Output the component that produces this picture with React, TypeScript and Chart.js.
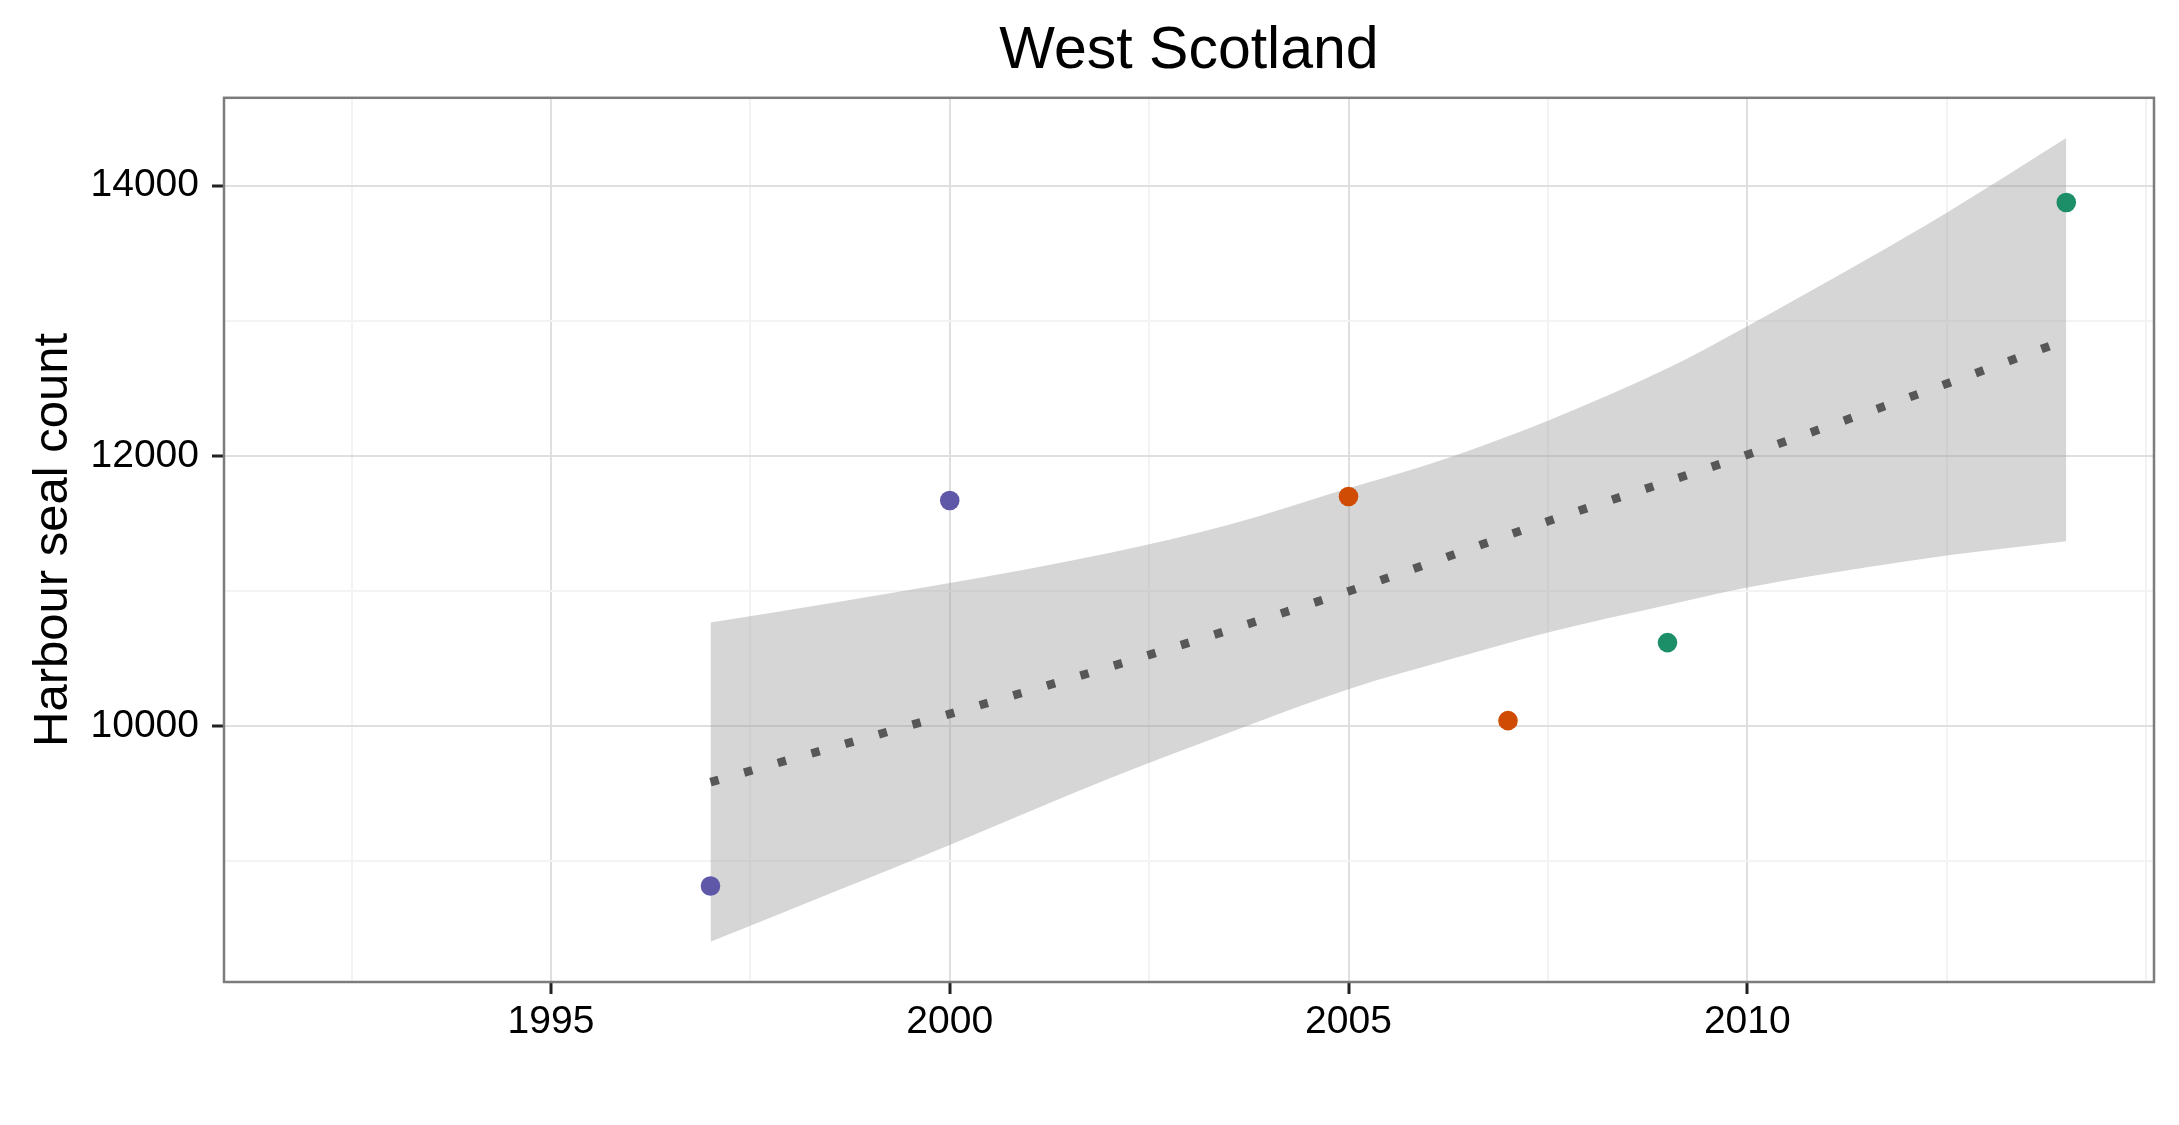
import React, { useEffect, useRef } from 'react';
import { Chart, registerables } from 'chart.js';

Chart.register(...registerables);

const TITLE = 'West Scotland';
const Y_TITLE = 'Harbour seal count';

// observed counts, grouped by colour
const purpleYears = [1997, 2000];
const purpleCounts = [8815, 11669];
const orangeYears = [2005, 2007];
const orangeCounts = [11699, 10039];
const greenYears = [2009, 2014];
const greenCounts = [10617, 13876];

// fitted trend
const fitYears = [1997, 2000, 2002.5, 2005, 2007.5, 2010, 2012.5, 2014];
const fitCounts = [9584, 10089, 10526, 10997, 11515, 12008, 12534, 12858];

// confidence band
const bandYears = [1997, 2000, 2002, 2003.5, 2005, 2006.2, 2007.5, 2009, 2010, 2011.5, 2012.5, 2014];
const upperCounts = [10765, 11059, 11281, 11489, 11760, 11975, 12260, 12648, 12960, 13455, 13800, 14353];
const lowerCounts = [8402, 9119, 9610, 9950, 10272, 10480, 10692, 10895, 11025, 11175, 11262, 11368];

// axes
const xMajorTicks = [1995, 2000, 2005, 2010];
const xMinorTicks = [1992.5, 1997.5, 2002.5, 2007.5, 2012.5, 2015];
const yMajorTicks = [10000, 12000, 14000];
const yMinorTicks = [9000, 11000, 13000];
const X_MIN = 1990.9;
const X_MAX = 2015.1;
const Y_MIN = 8104;
const Y_MAX = 14651;

const PURPLE = '#5F58A8';
const ORANGE = '#D04C04';
const GREEN = '#1C8F68';
const FONT = '"Liberation Sans", Arial, Helvetica, sans-serif';

const zip = (xs: number[], ys: number[]) => xs.map((x, i) => ({ x, y: ys[i] }));

const panelBorder = {
  id: 'panelBorder',
  afterDatasetsDraw(chart: any) {
    const { ctx, chartArea: a } = chart;
    ctx.save();
    ctx.strokeStyle = '#7c7c7c';
    ctx.lineWidth = 2.5;
    ctx.strokeRect(a.left, a.top, a.right - a.left, a.bottom - a.top);
    ctx.restore();
  },
};

export default function App() {
  const ref = useRef<HTMLCanvasElement | null>(null);

  useEffect(() => {
    if (!ref.current) return;
    const majorX = new Set(xMajorTicks);
    const majorY = new Set(yMajorTicks);
    const chart = new Chart(ref.current, {
      type: 'scatter',
      data: {
        datasets: [
          {
            type: 'scatter',
            label: 'purple',
            data: zip(purpleYears, purpleCounts),
            backgroundColor: PURPLE,
            borderColor: PURPLE,
            pointRadius: 9.8,
            borderWidth: 0,
            order: 0,
          },
          {
            type: 'scatter',
            label: 'orange',
            data: zip(orangeYears, orangeCounts),
            backgroundColor: ORANGE,
            borderColor: ORANGE,
            pointRadius: 9.8,
            borderWidth: 0,
            order: 0,
          },
          {
            type: 'scatter',
            label: 'green',
            data: zip(greenYears, greenCounts),
            backgroundColor: GREEN,
            borderColor: GREEN,
            pointRadius: 9.8,
            borderWidth: 0,
            order: 0,
          },
          {
            type: 'line',
            label: 'trend',
            data: zip(fitYears, fitCounts),
            borderColor: '#575757',
            borderWidth: 8.5,
            borderDash: [8.5, 26.5],
            borderCapStyle: 'butt',
            pointRadius: 0,
            fill: false,
            showLine: true,
            cubicInterpolationMode: 'monotone',
            order: 1,
          },
          {
            type: 'line',
            label: 'upper',
            data: zip(bandYears, upperCounts),
            borderColor: 'rgba(0,0,0,0)',
            borderWidth: 0,
            pointRadius: 0,
            backgroundColor: 'rgba(153,153,153,0.4)',
            fill: '+1',
            showLine: true,
            cubicInterpolationMode: 'monotone',
            order: 2,
          },
          {
            type: 'line',
            label: 'lower',
            data: zip(bandYears, lowerCounts),
            borderColor: 'rgba(0,0,0,0)',
            borderWidth: 0,
            pointRadius: 0,
            fill: false,
            showLine: true,
            cubicInterpolationMode: 'monotone',
            order: 3,
          },
        ] as any,
      },
      options: {
        animation: false,
        responsive: false,
        devicePixelRatio: 1,
        layout: { padding: { left: 0, right: 25, top: 0, bottom: 0 } },
        plugins: {
          legend: { display: false },
          tooltip: { enabled: false },
          title: {
            display: true,
            fullSize: false,
            text: TITLE,
            color: '#000',
            font: { family: FONT, size: 59, weight: 'normal', lineHeight: 1.2 },
            padding: { top: 16, bottom: 11 },
          },
        },
        scales: {
          x: {
            type: 'linear',
            min: X_MIN,
            max: X_MAX,
            afterBuildTicks: (scale: any) => {
              scale.ticks = [...xMajorTicks, ...xMinorTicks]
                .sort((a, b) => a - b)
                .map((v) => ({ value: v }));
            },
            afterFit: (scale: any) => {
              scale.height = 143;
            },
            ticks: {
              autoSkip: false,
              maxRotation: 0,
              padding: 5,
              color: '#000',
              font: { family: FONT, size: 39, lineHeight: 1.2 },
              callback: (v: any) => (majorX.has(Number(v)) ? String(v) : ''),
            },
            grid: {
              color: (c: any) => (c.tick && majorX.has(c.tick.value) ? '#DFDFDF' : '#F3F3F3'),
              lineWidth: 2,
              tickLength: 12,
              tickWidth: 3,
              tickColor: (c: any) => (c.tick && majorX.has(c.tick.value) ? '#222' : 'rgba(0,0,0,0)'),
            },
            border: { display: false },
          },
          y: {
            type: 'linear',
            min: Y_MIN,
            max: Y_MAX,
            afterBuildTicks: (scale: any) => {
              scale.ticks = [...yMajorTicks, ...yMinorTicks]
                .sort((a, b) => a - b)
                .map((v) => ({ value: v }));
            },
            afterFit: (scale: any) => {
              scale.width = 224;
            },
            title: {
              display: true,
              text: Y_TITLE,
              color: '#000',
              font: { family: FONT, size: 49, lineHeight: 1.2 },
              padding: { top: 23.6, bottom: 0 },
            },
            ticks: {
              autoSkip: false,
              padding: 13,
              color: '#000',
              font: { family: FONT, size: 39, lineHeight: 1.2 },
              callback: (v: any) => (majorY.has(Number(v)) ? String(v) : ''),
            },
            grid: {
              color: (c: any) => (c.tick && majorY.has(c.tick.value) ? '#DFDFDF' : '#F3F3F3'),
              lineWidth: 2,
              tickLength: 12,
              tickWidth: 3,
              tickColor: (c: any) => (c.tick && majorY.has(c.tick.value) ? '#222' : 'rgba(0,0,0,0)'),
            },
            border: { display: false },
          },
        },
      } as any,
      plugins: [panelBorder],
    });
    return () => chart.destroy();
  }, []);

  return (
    <div style={{ position: 'fixed', left: 0, top: 0, width: 2179, height: 1125, background: '#fff' }}>
      <canvas ref={ref} width={2179} height={1125} style={{ width: 2179, height: 1125, display: 'block' }} />
    </div>
  );
}
